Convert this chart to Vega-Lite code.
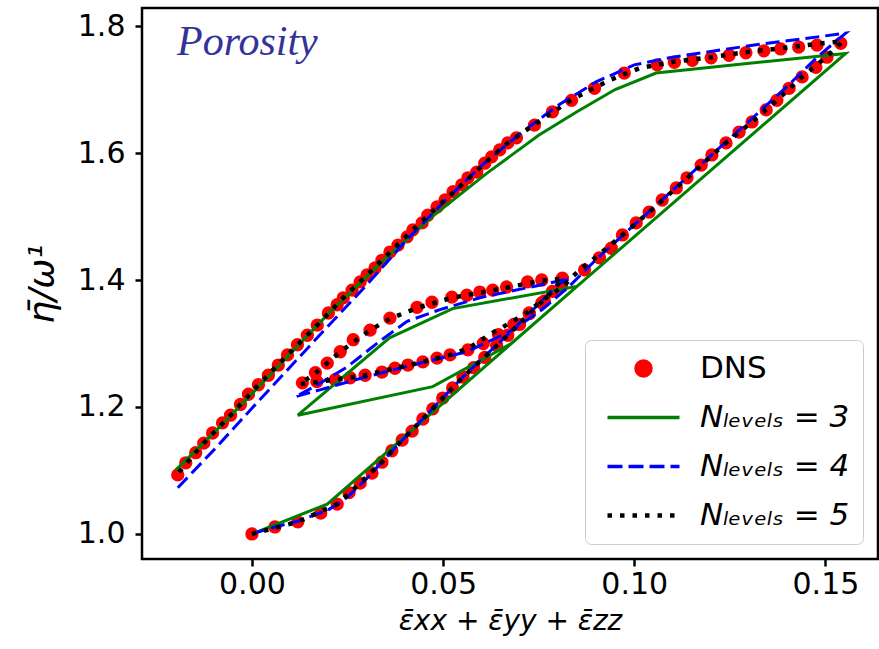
{
 "$schema": "https://vega.github.io/schema/vega-lite/v6.json",
 "width": 736, "height": 551,
 "autosize": {"type": "none"},
 "padding": {"left": 142, "top": 8, "right": 1, "bottom": 90},
 "background": "white",
 "data": {"values": [
  {"series":"DNS","seq":1,"x":0,"y":1.0},{"series":"DNS","seq":2,"x":0.006,"y":1.011},{"series":"DNS","seq":3,"x":0.012,"y":1.019},{"series":"DNS","seq":4,"x":0.018,"y":1.033},{"series":"DNS","seq":5,"x":0.0223,"y":1.047},{"series":"DNS","seq":6,"x":0.0254,"y":1.065},{"series":"DNS","seq":7,"x":0.0283,"y":1.08},{"series":"DNS","seq":8,"x":0.0314,"y":1.096},{"series":"DNS","seq":9,"x":0.034,"y":1.113},{"series":"DNS","seq":10,"x":0.0366,"y":1.131},{"series":"DNS","seq":11,"x":0.0393,"y":1.148},{"series":"DNS","seq":12,"x":0.0419,"y":1.162},{"series":"DNS","seq":13,"x":0.0447,"y":1.181},{"series":"DNS","seq":14,"x":0.0473,"y":1.197},{"series":"DNS","seq":15,"x":0.0499,"y":1.214},{"series":"DNS","seq":16,"x":0.0525,"y":1.23},{"series":"DNS","seq":17,"x":0.0552,"y":1.247},{"series":"DNS","seq":18,"x":0.058,"y":1.262},{"series":"DNS","seq":19,"x":0.0609,"y":1.278},{"series":"DNS","seq":20,"x":0.064,"y":1.297},{"series":"DNS","seq":21,"x":0.0669,"y":1.313},{"series":"DNS","seq":22,"x":0.07,"y":1.33},{"series":"DNS","seq":23,"x":0.0726,"y":1.347},{"series":"DNS","seq":24,"x":0.0758,"y":1.364},{"series":"DNS","seq":25,"x":0.0786,"y":1.382},{"series":"DNS","seq":26,"x":0.0812,"y":1.403},
  {"series":"DNS","seq":27,"x":0.0758,"y":1.4},{"series":"DNS","seq":28,"x":0.0721,"y":1.397},{"series":"DNS","seq":29,"x":0.0666,"y":1.389},{"series":"DNS","seq":30,"x":0.063,"y":1.384},{"series":"DNS","seq":31,"x":0.0596,"y":1.381},{"series":"DNS","seq":32,"x":0.0562,"y":1.376},{"series":"DNS","seq":33,"x":0.0523,"y":1.373},{"series":"DNS","seq":34,"x":0.0471,"y":1.365},{"series":"DNS","seq":35,"x":0.0432,"y":1.357},{"series":"DNS","seq":36,"x":0.0361,"y":1.34},{"series":"DNS","seq":37,"x":0.0309,"y":1.321},{"series":"DNS","seq":38,"x":0.0265,"y":1.306},{"series":"DNS","seq":39,"x":0.0231,"y":1.287},{"series":"DNS","seq":40,"x":0.0197,"y":1.269},{"series":"DNS","seq":41,"x":0.0166,"y":1.254},{"series":"DNS","seq":42,"x":0.0132,"y":1.238},
  {"series":"DNS","seq":43,"x":0.017,"y":1.24},{"series":"DNS","seq":44,"x":0.0218,"y":1.243},{"series":"DNS","seq":45,"x":0.0257,"y":1.246},{"series":"DNS","seq":46,"x":0.0296,"y":1.25},{"series":"DNS","seq":47,"x":0.034,"y":1.255},{"series":"DNS","seq":48,"x":0.0374,"y":1.261},{"series":"DNS","seq":49,"x":0.0408,"y":1.266},{"series":"DNS","seq":50,"x":0.0447,"y":1.271},{"series":"DNS","seq":51,"x":0.0484,"y":1.277},{"series":"DNS","seq":52,"x":0.0518,"y":1.282},{"series":"DNS","seq":53,"x":0.0565,"y":1.29},{"series":"DNS","seq":54,"x":0.0605,"y":1.3},{"series":"DNS","seq":55,"x":0.0645,"y":1.314},{"series":"DNS","seq":56,"x":0.0685,"y":1.33},{"series":"DNS","seq":57,"x":0.0725,"y":1.348},{"series":"DNS","seq":58,"x":0.0765,"y":1.367},{"series":"DNS","seq":59,"x":0.081,"y":1.39},{"series":"DNS","seq":60,"x":0.087,"y":1.416},{"series":"DNS","seq":61,"x":0.0909,"y":1.435},{"series":"DNS","seq":62,"x":0.094,"y":1.45},{"series":"DNS","seq":63,"x":0.0969,"y":1.471},{"series":"DNS","seq":64,"x":0.1005,"y":1.49},{"series":"DNS","seq":65,"x":0.1039,"y":1.507},{"series":"DNS","seq":66,"x":0.1073,"y":1.526},{"series":"DNS","seq":67,"x":0.111,"y":1.545},{"series":"DNS","seq":68,"x":0.1138,"y":1.561},{"series":"DNS","seq":69,"x":0.1175,"y":1.581},{"series":"DNS","seq":70,"x":0.1203,"y":1.597},{"series":"DNS","seq":71,"x":0.124,"y":1.616},{"series":"DNS","seq":72,"x":0.1274,"y":1.633},{"series":"DNS","seq":73,"x":0.1308,"y":1.649},{"series":"DNS","seq":74,"x":0.1345,"y":1.668},{"series":"DNS","seq":75,"x":0.1373,"y":1.683},{"series":"DNS","seq":76,"x":0.1405,"y":1.702},{"series":"DNS","seq":77,"x":0.1439,"y":1.72},{"series":"DNS","seq":78,"x":0.1475,"y":1.735},{"series":"DNS","seq":79,"x":0.1504,"y":1.751},{"series":"DNS","seq":80,"x":0.154,"y":1.773},
  {"series":"DNS","seq":81,"x":0.1478,"y":1.77},{"series":"DNS","seq":82,"x":0.143,"y":1.767},{"series":"DNS","seq":83,"x":0.1383,"y":1.764},{"series":"DNS","seq":84,"x":0.1339,"y":1.761},{"series":"DNS","seq":85,"x":0.1292,"y":1.758},{"series":"DNS","seq":86,"x":0.1248,"y":1.754},{"series":"DNS","seq":87,"x":0.1201,"y":1.75},{"series":"DNS","seq":88,"x":0.1152,"y":1.746},{"series":"DNS","seq":89,"x":0.1105,"y":1.743},{"series":"DNS","seq":90,"x":0.106,"y":1.739},{"series":"DNS","seq":91,"x":0.0974,"y":1.726},{"series":"DNS","seq":92,"x":0.0896,"y":1.702},{"series":"DNS","seq":93,"x":0.0836,"y":1.683},{"series":"DNS","seq":94,"x":0.0786,"y":1.665},{"series":"DNS","seq":95,"x":0.0739,"y":1.644},{"series":"DNS","seq":96,"x":0.0692,"y":1.624},{"series":"DNS","seq":97,"x":0.0669,"y":1.616},{"series":"DNS","seq":98,"x":0.0648,"y":1.605},{"series":"DNS","seq":99,"x":0.0627,"y":1.594},{"series":"DNS","seq":100,"x":0.0609,"y":1.584},{"series":"DNS","seq":101,"x":0.0588,"y":1.57},{"series":"DNS","seq":102,"x":0.0565,"y":1.561},{"series":"DNS","seq":103,"x":0.0549,"y":1.55},{"series":"DNS","seq":104,"x":0.0526,"y":1.539},{"series":"DNS","seq":105,"x":0.0505,"y":1.526},{"series":"DNS","seq":106,"x":0.0484,"y":1.515},{"series":"DNS","seq":107,"x":0.046,"y":1.502},{"series":"DNS","seq":108,"x":0.0445,"y":1.49},{"series":"DNS","seq":109,"x":0.0421,"y":1.479},{"series":"DNS","seq":110,"x":0.0406,"y":1.468},{"series":"DNS","seq":111,"x":0.0382,"y":1.455},{"series":"DNS","seq":112,"x":0.0361,"y":1.444},{"series":"DNS","seq":113,"x":0.034,"y":1.431},{"series":"DNS","seq":114,"x":0.0322,"y":1.419},{"series":"DNS","seq":115,"x":0.0301,"y":1.408},{"series":"DNS","seq":116,"x":0.0283,"y":1.397},{"series":"DNS","seq":117,"x":0.0262,"y":1.384},{"series":"DNS","seq":118,"x":0.0239,"y":1.372},{"series":"DNS","seq":119,"x":0.0223,"y":1.361},{"series":"DNS","seq":120,"x":0.02,"y":1.348},{"series":"DNS","seq":121,"x":0.0171,"y":1.329},{"series":"DNS","seq":122,"x":0.0145,"y":1.313},{"series":"DNS","seq":123,"x":0.0119,"y":1.298},{"series":"DNS","seq":124,"x":0.0093,"y":1.282},{"series":"DNS","seq":125,"x":0.0069,"y":1.266},{"series":"DNS","seq":126,"x":0.0043,"y":1.25},{"series":"DNS","seq":127,"x":0.0017,"y":1.235},{"series":"DNS","seq":128,"x":-0.0009,"y":1.22},{"series":"DNS","seq":129,"x":-0.003,"y":1.204},{"series":"DNS","seq":130,"x":-0.0056,"y":1.187},{"series":"DNS","seq":131,"x":-0.0077,"y":1.175},{"series":"DNS","seq":132,"x":-0.0103,"y":1.159},{"series":"DNS","seq":133,"x":-0.0126,"y":1.143},{"series":"DNS","seq":134,"x":-0.0147,"y":1.128},{"series":"DNS","seq":135,"x":-0.0173,"y":1.112},{"series":"DNS","seq":136,"x":-0.0194,"y":1.093},

  {"series":"N3","seq":1,"x":0,"y":1.0},{"series":"N3","seq":2,"x":0.0197,"y":1.047},{"series":"N3","seq":3,"x":0.085,"y":1.39},{"series":"N3","seq":4,"x":0.0525,"y":1.355},{"series":"N3","seq":5,"x":0.036,"y":1.309},{"series":"N3","seq":6,"x":0.012,"y":1.187},{"series":"N3","seq":7,"x":0.0473,"y":1.232},{"series":"N3","seq":8,"x":0.0676,"y":1.299},{"series":"N3","seq":9,"x":0.1553,"y":1.757},{"series":"N3","seq":10,"x":0.1057,"y":1.726},{"series":"N3","seq":11,"x":0.095,"y":1.7},{"series":"N3","seq":12,"x":0.085,"y":1.665},{"series":"N3","seq":13,"x":0.075,"y":1.628},{"series":"N3","seq":14,"x":0.0614,"y":1.568},{"series":"N3","seq":15,"x":0.047,"y":1.499},{"series":"N3","seq":16,"x":0.035,"y":1.434},{"series":"N3","seq":17,"x":0.02,"y":1.347},{"series":"N3","seq":18,"x":0.005,"y":1.252},{"series":"N3","seq":19,"x":-0.0098,"y":1.16},{"series":"N3","seq":20,"x":-0.0199,"y":1.101},

  {"series":"N4","seq":1,"x":0,"y":1.0},{"series":"N4","seq":2,"x":0.006,"y":1.011},{"series":"N4","seq":3,"x":0.012,"y":1.02},{"series":"N4","seq":4,"x":0.02,"y":1.038},{"series":"N4","seq":5,"x":0.025,"y":1.058},{"series":"N4","seq":6,"x":0.03,"y":1.087},{"series":"N4","seq":7,"x":0.035,"y":1.12},{"series":"N4","seq":8,"x":0.04,"y":1.152},{"series":"N4","seq":9,"x":0.045,"y":1.183},{"series":"N4","seq":10,"x":0.05,"y":1.215},{"series":"N4","seq":11,"x":0.055,"y":1.246},{"series":"N4","seq":12,"x":0.06,"y":1.275},{"series":"N4","seq":13,"x":0.065,"y":1.303},{"series":"N4","seq":14,"x":0.07,"y":1.332},{"series":"N4","seq":15,"x":0.075,"y":1.362},{"series":"N4","seq":16,"x":0.08,"y":1.393},{"series":"N4","seq":17,"x":0.083,"y":1.402},
  {"series":"N4","seq":18,"x":0.077,"y":1.394},{"series":"N4","seq":19,"x":0.0682,"y":1.383},{"series":"N4","seq":20,"x":0.0596,"y":1.372},{"series":"N4","seq":21,"x":0.049,"y":1.353},{"series":"N4","seq":22,"x":0.0406,"y":1.335},{"series":"N4","seq":23,"x":0.0335,"y":1.304},{"series":"N4","seq":24,"x":0.0249,"y":1.263},{"series":"N4","seq":25,"x":0.016,"y":1.231},{"series":"N4","seq":26,"x":0.0113,"y":1.216},
  {"series":"N4","seq":27,"x":0.0178,"y":1.227},{"series":"N4","seq":28,"x":0.029,"y":1.246},{"series":"N4","seq":29,"x":0.042,"y":1.266},{"series":"N4","seq":30,"x":0.0562,"y":1.287},{"series":"N4","seq":31,"x":0.0682,"y":1.321},{"series":"N4","seq":32,"x":0.076,"y":1.354},{"series":"N4","seq":33,"x":0.083,"y":1.39},{"series":"N4","seq":34,"x":0.09,"y":1.432},{"series":"N4","seq":35,"x":0.1,"y":1.487},{"series":"N4","seq":36,"x":0.11,"y":1.541},{"series":"N4","seq":37,"x":0.12,"y":1.596},{"series":"N4","seq":38,"x":0.13,"y":1.65},{"series":"N4","seq":39,"x":0.14,"y":1.705},{"series":"N4","seq":40,"x":0.148,"y":1.752},{"series":"N4","seq":41,"x":0.1553,"y":1.789},
  {"series":"N4","seq":42,"x":0.148,"y":1.783},{"series":"N4","seq":43,"x":0.14,"y":1.777},{"series":"N4","seq":44,"x":0.13,"y":1.769},{"series":"N4","seq":45,"x":0.12,"y":1.76},{"series":"N4","seq":46,"x":0.11,"y":1.751},{"series":"N4","seq":47,"x":0.1,"y":1.739},{"series":"N4","seq":48,"x":0.09,"y":1.712},{"series":"N4","seq":49,"x":0.08,"y":1.675},{"series":"N4","seq":50,"x":0.07,"y":1.63},{"series":"N4","seq":51,"x":0.06,"y":1.58},{"series":"N4","seq":52,"x":0.05,"y":1.522},{"series":"N4","seq":53,"x":0.04,"y":1.46},{"series":"N4","seq":54,"x":0.03,"y":1.392},{"series":"N4","seq":55,"x":0.02,"y":1.328},{"series":"N4","seq":56,"x":0.01,"y":1.263},{"series":"N4","seq":57,"x":0.0,"y":1.198},{"series":"N4","seq":58,"x":-0.01,"y":1.132},{"series":"N4","seq":59,"x":-0.02,"y":1.069},

  {"series":"N5","seq":1,"x":0,"y":1.0},{"series":"N5","seq":2,"x":0.012,"y":1.019},{"series":"N5","seq":3,"x":0.0223,"y":1.047},{"series":"N5","seq":4,"x":0.0283,"y":1.08},{"series":"N5","seq":5,"x":0.034,"y":1.113},{"series":"N5","seq":6,"x":0.0393,"y":1.148},{"series":"N5","seq":7,"x":0.0447,"y":1.181},{"series":"N5","seq":8,"x":0.0499,"y":1.214},{"series":"N5","seq":9,"x":0.0552,"y":1.247},{"series":"N5","seq":10,"x":0.0609,"y":1.279},{"series":"N5","seq":11,"x":0.0669,"y":1.313},{"series":"N5","seq":12,"x":0.0726,"y":1.347},{"series":"N5","seq":13,"x":0.0786,"y":1.382},{"series":"N5","seq":14,"x":0.0812,"y":1.402},
  {"series":"N5","seq":15,"x":0.0758,"y":1.399},{"series":"N5","seq":16,"x":0.0666,"y":1.388},{"series":"N5","seq":17,"x":0.0596,"y":1.38},{"series":"N5","seq":18,"x":0.0523,"y":1.372},{"series":"N5","seq":19,"x":0.0432,"y":1.356},{"series":"N5","seq":20,"x":0.0361,"y":1.339},{"series":"N5","seq":21,"x":0.0309,"y":1.321},{"series":"N5","seq":22,"x":0.0231,"y":1.287},{"series":"N5","seq":23,"x":0.0166,"y":1.253},{"series":"N5","seq":24,"x":0.0125,"y":1.236},
  {"series":"N5","seq":25,"x":0.0218,"y":1.243},{"series":"N5","seq":26,"x":0.0296,"y":1.25},{"series":"N5","seq":27,"x":0.0374,"y":1.261},{"series":"N5","seq":28,"x":0.0447,"y":1.271},{"series":"N5","seq":29,"x":0.0518,"y":1.282},{"series":"N5","seq":30,"x":0.0565,"y":1.292},{"series":"N5","seq":31,"x":0.063,"y":1.317},{"series":"N5","seq":32,"x":0.0674,"y":1.332},{"series":"N5","seq":33,"x":0.0718,"y":1.348},{"series":"N5","seq":34,"x":0.076,"y":1.368},{"series":"N5","seq":35,"x":0.0812,"y":1.389},{"series":"N5","seq":36,"x":0.0857,"y":1.416},{"series":"N5","seq":37,"x":0.09,"y":1.436},{"series":"N5","seq":38,"x":0.0969,"y":1.471},{"series":"N5","seq":39,"x":0.1039,"y":1.507},{"series":"N5","seq":40,"x":0.111,"y":1.545},{"series":"N5","seq":41,"x":0.1175,"y":1.581},{"series":"N5","seq":42,"x":0.124,"y":1.616},{"series":"N5","seq":43,"x":0.1308,"y":1.649},{"series":"N5","seq":44,"x":0.1373,"y":1.683},{"series":"N5","seq":45,"x":0.1439,"y":1.72},{"series":"N5","seq":46,"x":0.1504,"y":1.752},{"series":"N5","seq":47,"x":0.1545,"y":1.776},
  {"series":"N5","seq":48,"x":0.1478,"y":1.772},{"series":"N5","seq":49,"x":0.1383,"y":1.765},{"series":"N5","seq":50,"x":0.1292,"y":1.759},{"series":"N5","seq":51,"x":0.1201,"y":1.751},{"series":"N5","seq":52,"x":0.1105,"y":1.744},{"series":"N5","seq":53,"x":0.1015,"y":1.734},{"series":"N5","seq":54,"x":0.0936,"y":1.715},{"series":"N5","seq":55,"x":0.0836,"y":1.684},{"series":"N5","seq":56,"x":0.0739,"y":1.645},{"series":"N5","seq":57,"x":0.0669,"y":1.616},{"series":"N5","seq":58,"x":0.0609,"y":1.584},{"series":"N5","seq":59,"x":0.0549,"y":1.55},{"series":"N5","seq":60,"x":0.0484,"y":1.515},{"series":"N5","seq":61,"x":0.0421,"y":1.479},{"series":"N5","seq":62,"x":0.0361,"y":1.444},{"series":"N5","seq":63,"x":0.0301,"y":1.408},{"series":"N5","seq":64,"x":0.0239,"y":1.372},{"series":"N5","seq":65,"x":0.0171,"y":1.329},{"series":"N5","seq":66,"x":0.0093,"y":1.282},{"series":"N5","seq":67,"x":0.0017,"y":1.235},{"series":"N5","seq":68,"x":-0.0056,"y":1.187},{"series":"N5","seq":69,"x":-0.0126,"y":1.143},{"series":"N5","seq":70,"x":-0.0194,"y":1.095}
 ]},
 "encoding": {
  "x": {"field": "x", "type": "quantitative",
        "scale": {"domain": [-0.02875, 0.16375], "nice": false, "zero": false},
        "axis": {"values": [0, 0.05, 0.1, 0.15], "format": ".2f", "title": "ε̄xx + ε̄yy + ε̄zz", "labelPadding": 3, "titlePadding": 8, "titleFontSize": 28}},
  "y": {"field": "y", "type": "quantitative",
        "scale": {"domain": [0.9605, 1.8285], "nice": false, "zero": false},
        "axis": {"values": [1, 1.2, 1.4, 1.6, 1.8], "format": ".1f", "title": "η̄/ω¹", "labelPadding": 10, "titlePadding": 16, "titleFontSize": 36}},
  "color": {"field": "series", "type": "nominal",
            "scale": {"domain": ["DNS", "N3", "N4", "N5"], "range": ["#ff0000", "#008000", "#0000ff", "#000000"]},
            "legend": {
              "title": null, "orient": "bottom-right", "offset": 15,
              "padding": 13, "cornerRadius": 6, "strokeColor": "#cccccc", "fillColor": "rgba(255,255,255,0.85)",
              "symbolSize": 144, "labelOffset": 71, "rowPadding": 17,
              "labelFont": "DejaVu Sans", "labelFontSize": 31, "labelColor": "black",
              "labelExpr": "datum.label == 'DNS' ? 'DNS' : 'Nₗₑᵥₑₗₛ = ' + substring(datum.label, 1)",
              "encode": {
                "symbols": {"update": {
                  "shape": {"signal": "datum.value == 'DNS' ? 'M3.75,0A1.25,1.25,0,1,1,6.25,0A1.25,1.25,0,1,1,3.75,0Z' : 'M-1,0L11,0'"},
                  "fill": {"signal": "datum.value == 'DNS' ? '#ff0000' : 'transparent'"},
                  "stroke": {"signal": "datum.value == 'N3' ? '#008000' : datum.value == 'N4' ? '#0000ff' : datum.value == 'N5' ? '#000000' : 'transparent'"},
                  "strokeWidth": {"signal": "datum.value == 'N5' ? 4.5 : 3.5"},
                  "strokeDash": {"signal": "datum.value == 'N4' ? [15, 6] : datum.value == 'N5' ? [4.5, 8] : []"},
                  "opacity": {"value": 1}
                }},
                "labels": {"update": {"fontStyle": {"signal": "datum.value == 'DNS' ? 'normal' : 'italic'"}}}
              }
            }}
 },
 "layer": [
  {"transform": [{"filter": "datum.series == 'DNS'"}],
   "mark": {"type": "point", "filled": true, "size": 177, "opacity": 1, "strokeWidth": 0, "clip": true}},
  {"transform": [{"filter": "datum.series == 'N3'"}],
   "mark": {"type": "line", "strokeWidth": 3, "clip": true},
   "encoding": {"order": {"field": "seq", "type": "quantitative"}}},
  {"transform": [{"filter": "datum.series == 'N4'"}],
   "mark": {"type": "line", "strokeWidth": 3, "strokeDash": [14, 6], "clip": true},
   "encoding": {"order": {"field": "seq", "type": "quantitative"}}},
  {"transform": [{"filter": "datum.series == 'N5'"}],
   "mark": {"type": "line", "strokeWidth": 4.5, "strokeDash": [4.5, 8], "clip": true},
   "encoding": {"order": {"field": "seq", "type": "quantitative"}}},
  {"transform": [{"filter": "datum.series == 'DNS' && datum.seq == 1"}],
   "mark": {"type": "text", "font": "Liberation Serif", "fontStyle": "italic", "fontSize": 42, "color": "#333399", "align": "left", "baseline": "alphabetic"},
   "encoding": {"x": {"datum": -0.0196}, "y": {"datum": 1.754}, "text": {"value": "Porosity"}, "color": null}}
 ],
 "config": {
  "view": {"stroke": "black", "strokeWidth": 2.5},
  "axis": {"domain": false, "grid": false, "ticks": true, "tickColor": "black", "tickWidth": 2.5, "tickSize": 7,
           "labelFont": "DejaVu Sans", "labelFontSize": 30, "labelColor": "black",
           "titleFont": "DejaVu Sans", "titleFontSize": 32, "titleFontWeight": "normal", "titleFontStyle": "italic", "titleColor": "black"}
 }
}
